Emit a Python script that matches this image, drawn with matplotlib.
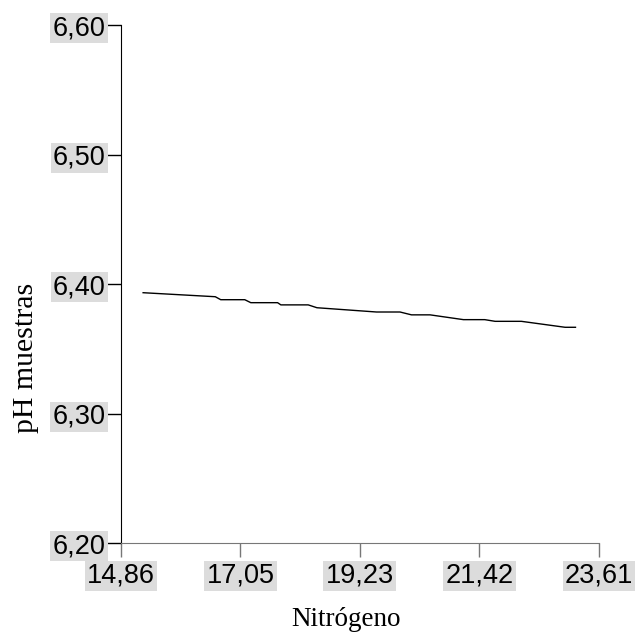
import matplotlib
matplotlib.use("Agg")
import matplotlib.pyplot as plt

# curve
nitrogeno = [15.27, 16.59, 16.69, 17.13, 17.24, 17.73, 17.79, 18.29, 18.45,
             19.54, 19.97, 20.18, 20.52, 21.13, 21.52, 21.71, 22.19, 22.99, 23.18]
ph = [6.3935, 6.3904, 6.3881, 6.3881, 6.3858, 6.3858, 6.3841, 6.3841, 6.3819,
      6.3786, 6.3786, 6.3764, 6.3764, 6.3727, 6.3727, 6.3714, 6.3714, 6.3668, 6.3668]

xticks = [14.86, 17.05, 19.23, 21.42, 23.61]
yticks = [6.20, 6.30, 6.40, 6.50, 6.60]

W, H = 636, 635
fig = plt.figure(figsize=(W / 100, H / 100), dpi=100)
ax = fig.add_axes([0.1898, 0.1444, 0.752, 0.8158])

ax.plot(nitrogeno, ph, color="black", lw=1.0)

ax.set_xlim(14.86, 23.61)
ax.set_ylim(6.20, 6.60)
ax.set_xticks(xticks)
ax.set_yticks(yticks)
ax.set_xticklabels([f"{v:.2f}".replace(".", ",") for v in xticks])
ax.set_yticklabels([f"{v:.2f}".replace(".", ",") for v in yticks])

ax.spines["top"].set_visible(False)
ax.spines["right"].set_visible(False)
ax.spines["left"].set_color("black")
ax.spines["bottom"].set_color("#777777")

ax.tick_params(axis="y", direction="out", length=10, width=1, colors="black", pad=1)
ax.tick_params(axis="x", direction="out", length=10, width=1, color="#777777",
               labelcolor="black", pad=4)

for lab in ax.get_xticklabels() + ax.get_yticklabels():
    lab.set_fontfamily("Liberation Sans")
    lab.set_fontsize(19.5)
    lab.set_bbox(dict(facecolor="#dcdcdc", edgecolor="none", pad=1.5))

# axis titles placed where the reference has them
fig.text(346 / W, 1 - 626 / H, "Nitrógeno", family="Liberation Serif",
         fontsize=19.5, ha="center", va="baseline")
fig.text(33 / W, 1 - 358 / H, "pH muestras", family="Liberation Serif",
         fontsize=21.5, ha="center", va="baseline", rotation=90,
         rotation_mode="anchor")

fig.savefig("out.png", dpi=100)
